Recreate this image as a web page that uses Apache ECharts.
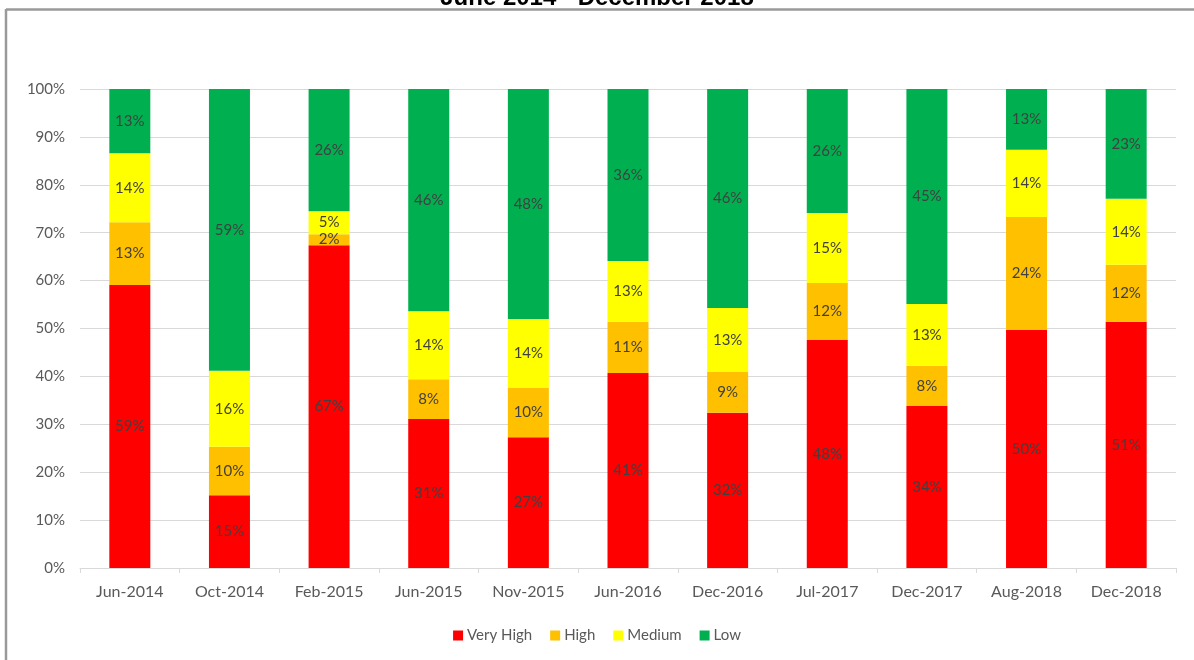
<!DOCTYPE html>
<html>
<head>
<meta charset="utf-8">
<script src="https://cdn.jsdelivr.net/npm/echarts@6/dist/echarts.min.js"></script>
<style>
html,body{margin:0;padding:0;background:#fff;}
#chart{width:1194px;height:660px;}
</style>
</head>
<body>
<div id="chart"></div>
<script>
const titleText = 'June 2014 - December 2018';
const categories = ['Jun-2014','Oct-2014','Feb-2015','Jun-2015','Nov-2015','Jun-2016','Dec-2016','Jul-2017','Dec-2017','Aug-2018','Dec-2018'];
const veryHigh = [59.1, 15.2, 67.4, 31.1, 27.3, 40.7, 32.4, 47.6, 33.8, 49.7, 51.4];
const high     = [13.1, 10.1, 2.3, 8.3, 10.3, 10.7, 8.5, 11.9, 8.4, 23.6, 11.9];
const medium   = [14.4, 15.9, 4.8, 14.2, 14.4, 12.7, 13.4, 14.6, 12.9, 14.0, 13.8];
const low      = [13.4, 58.9, 25.5, 46.4, 48.0, 35.9, 45.7, 25.9, 44.9, 12.7, 22.9];
const seriesNames = ['Very High','High','Medium','Low'];
const seriesColors = ['#FF0000','#FFC000','#FFFF00','#00B050'];
const yTicks = [0,10,20,30,40,50,60,70,80,90,100];

const FONT = 'Lato, "Open Sans", sans-serif';
const chart = echarts.init(document.getElementById('chart'));
const dataSets = [veryHigh, high, medium, low];
const series = dataSets.map((d, i) => ({
  name: seriesNames[i],
  type: 'bar',
  stack: 'total',
  barWidth: 41,
  data: d,
  itemStyle: { color: seriesColors[i] },
  label: {
    show: true,
    position: 'inside',
    color: '#404040',
    fontFamily: FONT,
    fontSize: 15,
    formatter: p => Math.round(p.value) + '%'
  },
  emphasis: { disabled: true }
}));

chart.setOption({
  animation: false,
  backgroundColor: '#ffffff',
  title: {
    text: titleText,
    left: 'center',
    top: -19,
    textStyle: { fontFamily: '"Liberation Sans", Arial, sans-serif', fontSize: 24, fontWeight: 'bold', color: '#000' }
  },
  graphic: [
    { type: 'line', shape: { x1: 6, y1: 9.5, x2: 1194, y2: 9.5 }, style: { stroke: '#9a9a9a', lineWidth: 2.5 }, silent: true },
    { type: 'line', shape: { x1: 6, y1: 9, x2: 6, y2: 660 }, style: { stroke: '#9a9a9a', lineWidth: 2.5 }, silent: true }
  ],
  legend: {
    data: seriesNames,
    bottom: 12,
    left: 'center',
    itemWidth: 10,
    itemHeight: 10,
    itemGap: 18,
    icon: 'rect',
    textStyle: { fontFamily: FONT, fontSize: 15, color: '#595959', padding: [0,0,0,-1] }
  },
  grid: { left: 80, right: 18, top: 89, bottom: 92, containLabel: false },
  xAxis: {
    type: 'category',
    data: categories,
    axisLine: { lineStyle: { color: '#d9d9d9' } },
    axisTick: { show: true, alignWithLabel: false, length: 5, lineStyle: { color: '#d9d9d9' } },
    axisLabel: { fontFamily: FONT, fontSize: 16, color: '#595959', margin: 16 }
  },
  yAxis: {
    type: 'value',
    min: 0,
    max: 100,
    interval: 10,
    axisLine: { show: false },
    axisTick: { show: false },
    splitLine: { lineStyle: { color: '#d9d9d9' } },
    axisLabel: {
      fontFamily: FONT, fontSize: 15, color: '#595959', margin: 15,
      formatter: v => yTicks.includes(v) ? v + '%' : ''
    }
  },
  series: series
});
</script>
</body>
</html>
